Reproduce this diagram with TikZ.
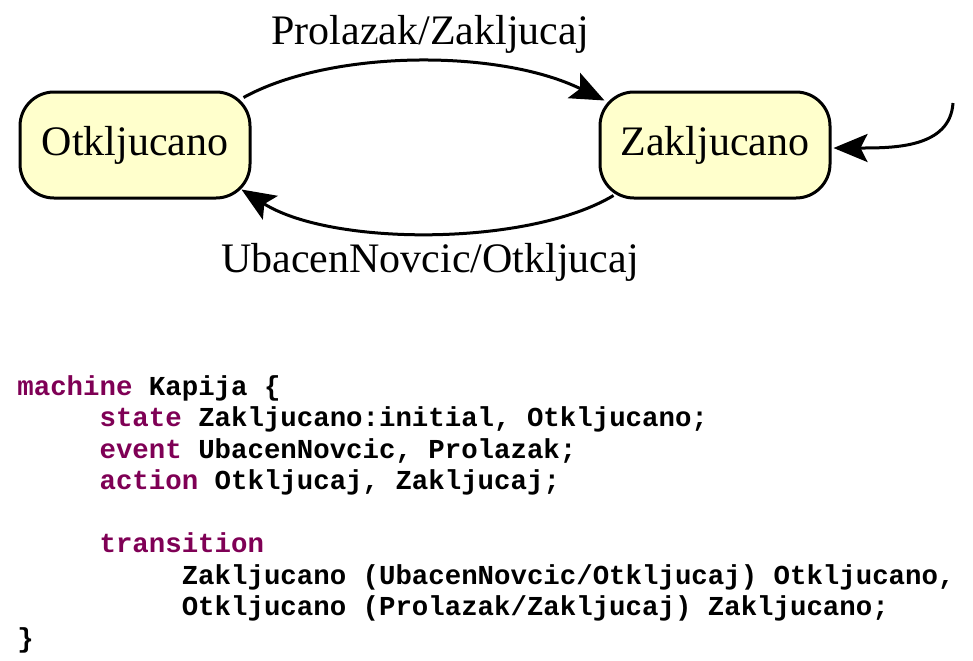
\documentclass[tikz,border=0pt]{standalone}
\usepackage{fontspec}
\setmainfont{Liberation Serif}
\newfontfamily\codefont{Liberation Mono}
\usepackage{xcolor}
\usepackage{tikz}
\usetikzlibrary{arrows.meta,positioning,calc}
\definecolor{kwcolor}{RGB}{127,0,85}
\definecolor{statefill}{RGB}{255,255,204}
\newcommand{\kw}[1]{\textcolor{kwcolor}{#1}}

\begin{document}
\begin{tikzpicture}[
    x=0.5pt, y=-0.5pt,
    font=\fontsize{21}{25}\selectfont,
    statebox/.style={rectangle, draw=black, line width=1.5pt, rounded corners=17pt, minimum width=115pt, minimum height=53pt, fill=statefill},
    lbl/.style={anchor=base, inner sep=0pt},
    trans/.style={-{Stealth[length=17pt, width=14pt, inset=3.5pt]}, line width=1.5pt},
    codeblock/.style={anchor=base west, inner sep=0pt, align=left, font=\codefont\bfseries\fontsize{13.7}{15.75}\selectfont}
]
    \useasboundingbox (0,0) rectangle (973,660);

    % states
    \node[statebox] (otk) at (135,145) {Otkljucano};
    \node[statebox] (zak) at (715,145) {Zakljucano};
    \coordinate (init) at (953,103);

    % transitions
    \draw[trans] ([shift={(-8,7)}]otk.north east) .. controls +(87,-48) and +(-106,-52) .. ([shift={(6,10)}]zak.north west);
    \draw[trans] ([shift={(15,-4)}]zak.south west) .. controls +(-85,51) and +(90,57) .. ([shift={(-10,-10)}]otk.south east);
    \draw[trans] (init) .. controls +(-3,45) and +(60,0) .. ([shift={(2,3)}]zak.east);

    \node[lbl] (lblTop) at (430,44) {Prolazak/Zakljucaj};
    \node[lbl] (lblBot) at (430,272) {UbacenNovcic/Otkljucaj};

    % source text (base anchor = last line)
    \node[codeblock] (code) at (17,647) {%
        \kw{machine} Kapija \{\\
        \hspace*{3em}\kw{state} Zakljucano:initial, Otkljucano;\\
        \hspace*{3em}\kw{event} UbacenNovcic, Prolazak;\\
        \hspace*{3em}\kw{action} Otkljucaj, Zakljucaj;\\
        \mbox{}\\
        \hspace*{3em}\kw{transition}\\
        \hspace*{6em}Zakljucano (UbacenNovcic/Otkljucaj) Otkljucano,\\
        \hspace*{6em}Otkljucano (Prolazak/Zakljucaj) Zakljucano;\\
        \}};
\end{tikzpicture}
\end{document}
